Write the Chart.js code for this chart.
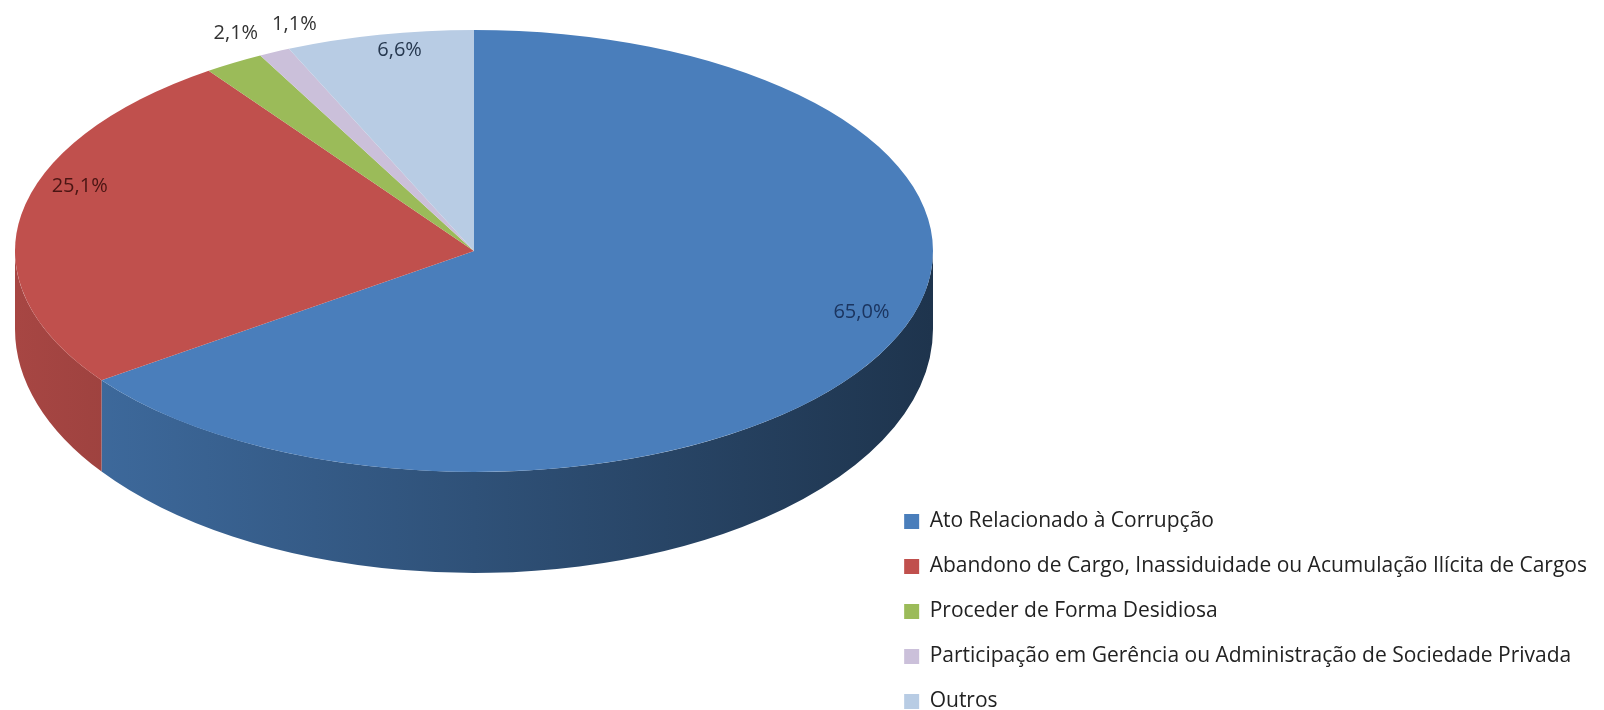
<!DOCTYPE html>
<html>
<head>
<meta charset="utf-8">
<script src="https://cdn.jsdelivr.net/npm/chart.js@4.4.0/dist/chart.umd.min.js"></script>
<style>
  html, body { margin: 0; padding: 0; background: #fff; overflow: hidden; }
  #box { width: 1604px; height: 710px; }
</style>
</head>
<body>
<div id="box"><canvas id="pizza"></canvas></div>
<script>
var categorias = [
  "Ato Relacionado à Corrupção",
  "Abandono de Cargo, Inassiduidade ou Acumulação Ilícita de Cargos",
  "Proceder de Forma Desidiosa",
  "Participação em Gerência ou Administração de Sociedade Privada",
  "Outros"
];
var percentuais = [65.0, 25.1, 2.1, 1.1, 6.6];
var cores = ["#4A7EBB", "#C0504D", "#9BBB59", "#CBC0DA", "#B8CCE4"];
var coresRotulo = ["#1B3560", "#4A1513", "#333333", "#333333", "#26384F"];

// geometria do efeito 3D : elipse do topo, base da lateral, centro em perspectiva
var topo = { cx: 474, cy: 251, rx: 459, ry: 221 };
var base = { cy: 329, ry: 244 };
var centroY = 218;

function escurecer(hex, f) {
  var n = parseInt(hex.slice(1), 16);
  var r = Math.round(((n >> 16) & 255) * f);
  var g = Math.round(((n >> 8) & 255) * f);
  var b = Math.round((n & 255) * f);
  return "rgb(" + r + "," + g + "," + b + ")";
}

// perspectiva aproximada (so pros rotulos)
function projetar(theta, f) {
  var y0 = topo.cy - topo.ry, y1 = topo.cy + topo.ry, B = centroY;
  var c = (y0 + y1 - 2 * B) / (y0 - y1);
  var A = y1 * (1 + c) - B;
  var u = f * Math.cos(theta), v = f * Math.sin(theta);
  var d = 1 + c * v;
  var rx0 = topo.rx / 1.011;
  return { x: topo.cx + rx0 * u / d, y: (A * v + B) / d };
}

var pizza3d = {
  id: "pizza3d",
  afterLayout: function(chart) {
    chart.legend.top += 26;
    chart.legend.bottom += 26;
  },
  beforeDatasetsDraw: function(chart) {
    var ctx = chart.ctx;
    var arcs = chart.getDatasetMeta(0).data;
    // laterais (so a parte da frente)
    arcs.forEach(function(arc, i) {
      var a = Math.max(arc.startAngle, 0);
      var b = Math.min(arc.endAngle, Math.PI);
      if (b <= a) return;
      var g = ctx.createLinearGradient(topo.cx - topo.rx, 0, topo.cx + topo.rx, 0);
      g.addColorStop(0, escurecer(cores[i], 0.87));
      g.addColorStop(0.5, escurecer(cores[i], 0.64));
      g.addColorStop(1, escurecer(cores[i], 0.41));
      ctx.beginPath();
      ctx.ellipse(topo.cx, topo.cy, topo.rx, topo.ry, 0, a, b, false);
      ctx.ellipse(topo.cx, base.cy, topo.rx, base.ry, 0, b, a, true);
      ctx.closePath();
      ctx.fillStyle = g;
      ctx.fill();
    });
    // topo achatado
    var p = arcs[0];
    ctx.save();
    ctx.translate(topo.cx, topo.cy);
    ctx.scale(topo.rx / p.outerRadius, topo.ry / p.outerRadius);
    ctx.translate(-p.x, -p.y);
  },
  afterDatasetsDraw: function(chart) {
    var ctx = chart.ctx;
    ctx.restore();
    var arcs = chart.getDatasetMeta(0).data;
    ctx.save();
    ctx.font = '20px "Open Sans"';
    ctx.textAlign = "center";
    ctx.textBaseline = "middle";
    var fimAnterior = null;
    arcs.forEach(function(arc, i) {
      var meio = (arc.startAngle + arc.endAngle) / 2;
      var fora = percentuais[i] < 3;
      var pt = projetar(meio, fora ? 1.15 : 0.9);
      var txt = percentuais[i].toFixed(1).replace(".", ",") + "%";
      var w = ctx.measureText(txt).width;
      if (fora) {
        // empurra pra direita se encostar no rotulo anterior
        if (fimAnterior !== null && pt.x - w / 2 < fimAnterior + 14) pt.x = fimAnterior + 14 + w / 2;
        fimAnterior = pt.x + w / 2;
      }
      ctx.fillStyle = coresRotulo[i];
      ctx.fillText(txt, pt.x, pt.y);
    });
    ctx.restore();
  }
};

var grafico = new Chart(document.getElementById("pizza"), {
  type: "pie",
  data: {
    labels: categorias,
    datasets: [{
      data: percentuais,
      backgroundColor: cores,
      borderWidth: 0,
      clip: false
    }]
  },
  options: {
    responsive: true,
    maintainAspectRatio: false,
    animation: false,
    layout: { padding: { right: 7 } },
    plugins: {
      tooltip: { enabled: false },
      legend: {
        position: "right",
        align: "end",
        labels: {
          font: { family: "Open Sans", size: 21 },
          color: "#222222",
          boxWidth: 15,
          boxHeight: 15,
          padding: 24
        }
      }
    }
  },
  plugins: [pizza3d]
});
</script>
</body>
</html>
